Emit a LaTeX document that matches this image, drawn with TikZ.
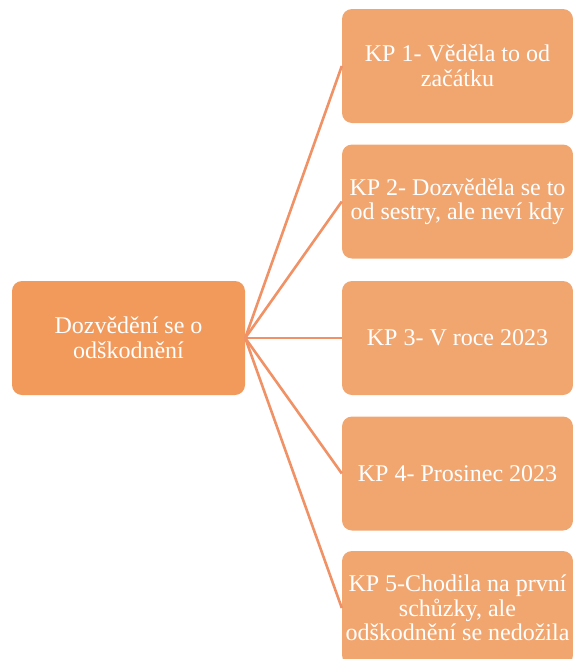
\documentclass[tikz,border=0pt]{standalone}
\usepackage{fontspec}
\setmainfont{Liberation Serif}
\newfontfamily\boxfont{Liberation Serif}
\definecolor{leftfill}{RGB}{241,154,92}
\definecolor{rightfill}{RGB}{241,166,112}
\definecolor{linkcol}{RGB}{240,146,102}
\tikzset{
  box/.style={rounded corners=10pt, inner sep=0pt, minimum width=231pt, minimum height=114pt,
    align=center, text=white, font=\boxfont\fontsize{24}{24.5}\selectfont},
  rootbox/.style={box, fill=leftfill, minimum width=233pt},
  leafbox/.style={box, fill=rightfill},
  link/.style={draw=linkcol, line width=2.6pt}
}
\begin{document}
\begin{tikzpicture}[x=1pt,y=-1pt]
\useasboundingbox (0,0) rectangle (573,659);
\clip (0,0) rectangle (573,659);
\node[rootbox] (root) at (128.5,338) {Dozvědění se o\\odškodnění};
\node[leafbox] (k1) at (457.5,66) {KP 1- Věděla to od\\začátku};
\node[leafbox] (k2) at (457.5,201.5) {KP 2- Dozvěděla se to\\od sestry, ale neví kdy};
\node[leafbox] (k3) at (457.5,338) {KP 3- V roce 2023};
\node[leafbox] (k4) at (457.5,473.5) {KP 4- Prosinec 2023};
\node[leafbox] (k5) at (457.5,608) {KP 5-Chodila na první\\schůzky, ale\\odškodnění se nedožila};
\foreach \k in {k1,k2,k3,k4,k5}
  \draw[link] (root.east) -- (\k.west);
\end{tikzpicture}
\end{document}
